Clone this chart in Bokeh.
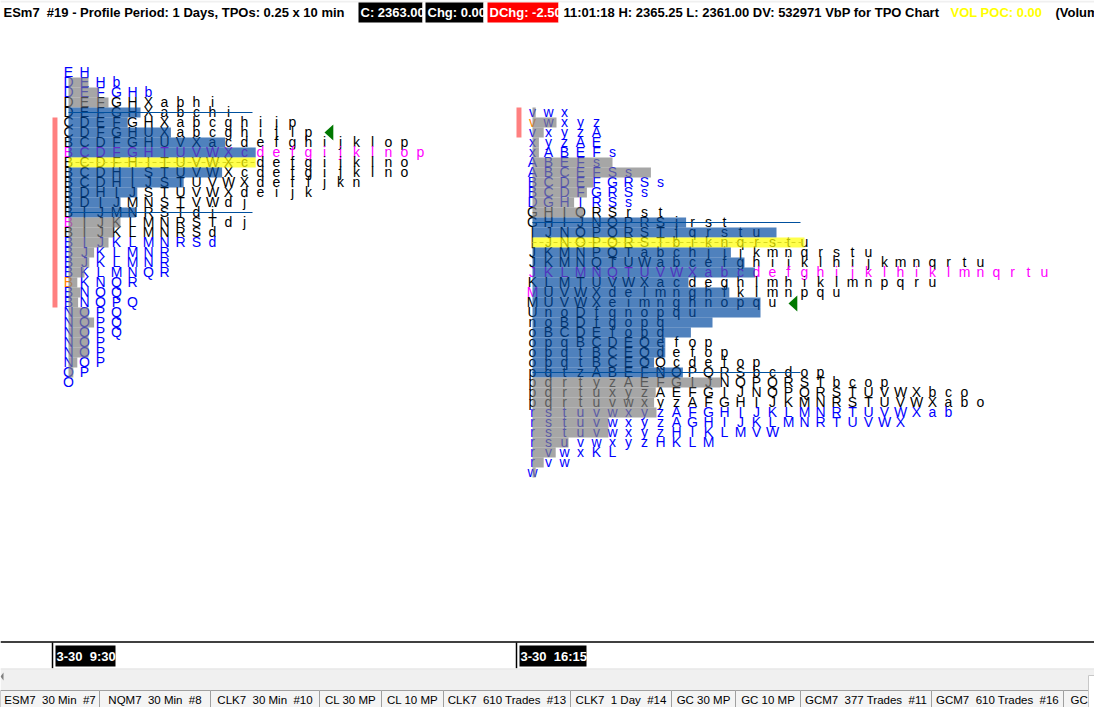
from bokeh.plotting import figure, ColumnDataSource
from bokeh.models import Range1d
from bokeh.core.properties import value
from bokeh.embed import file_html
from bokeh.resources import INLINE

# ---------- market profile data ----------
TICK = 0.25
TOP_PRICE = 2368.0

left_rows = ["EH","DEHb","DEFGHb","DEFGHXabhi","DEFGHXabchi","CDEFGHXabcghijp",
 "CDFGHUXabcghijlp","BCDFGHUVXacdefghijklop","BCDFGHTUVWXcdefgijklnop",
 "BCDFHITUVWXcdefgijklno","BCDHISTUVWXcdefgijklno","BCDHIJSTUVWXdeffjkn",
 "BDHIJSTUVWXdeijk","BDIJMNSTVWdj","BIJMNRSTdi","BIJKLMNRSTdj","BIJKLMNRSd",
 "BIJKLMNRSd","BJKLMNR","BJKLMNR","BKLMNQR","BKNQR","BNOQ","BNOPQ","NOPQ","NOPQ",
 "NOPQ","NOP","NOP","NOP","OP","O"]
left_colors = list("bbbkkkkkmkkkkkkkk" + "b"*15)
left_first = {15: "m", 21: "o"}
left_volume = [0,1.25,1.9,2.5,4.5,3.7,6.4,9.8,11.7,11.7,9.6,7.2,4.3,3.25,4.2,3.25,2.8,2.5,
 1.6,1.3,1,.55,.75,.6,1.25,1.6,1.25,1.25,1.25,.55,.3,0]
left_kind = list("ggggbbbbbybbbbbggggggggggggggggg")

right_rows = ["vwx","vwxyz","vxyzA","xyzAE","xABEFs","ABEFs","ABCEFSs","BCDEFGRSs","BCDFGRSs",
 "DGHIRSs","GHIORSrst","GHIJNOPRSjrst","IJNOPQRSTjqrstu","IJNOPQRSTbiknqrstu",
 "JKMNPQTabchjijkmnqrstu","JKMNQTUWabcefghijklhijkmnqrtu",
 "JKLMNQTUVWXabcdefghijklhiklmnqrtu","KLMTUVWXacdeghlmhiklmnpqru",
 "MUVWXdelmnghfklmnpqu","MUVWXeimnghnopqu","UnoDfgnopqu","noBDfgopq","oBCDEfopq",
 "opqBCDEQefop","opqtBCEQdefop","opqtBCEOQcdefop","pqtzABEFNOPQRSbcdop",
 "pqrtyzAEFGIJNOPQRSTbcop","pqrtuxyzAEFGIJNOPQRSTUVWXbco",
 "pqrtuvwxyzAFGHIJKMNRSTUVWXabo","rstuvwxyzAFGHIJKLMNRTUVWXab",
 "rstuvwxyzAGHIJKLMNRTUVWX","rstuvwxyzHIKLMVW","rsuvwxyzHKLM","rvwxKL","rvw","w"]
right_colors = ["b"]*10 + ["k"]*20 + ["b"]*7
right_colors[16] = "m"
right_first = {1: "o", 18: "m"}
right_volume = [.2,1.5,.7,.4,.4,5,7.4,3.8,3.4,2.6,3.2,9.6,15.25,17,12.4,13.25,13.9,9.75,12.3,
 14.25,14.25,11.25,9.9,8.3,8.3,7.6,9.4,11.75,7.7,7.6,7.75,4.75,4.75,2.25,1.45,.7,.2]
right_kind = list("g"*11 + "bb" + "y" + "b"*13 + "g"*10)

PROFILE_COLS = [0, 29]             # starting column of each profile
PROFILE_FIRST_ROW = [0, 4]         # row offset of each profile top
PALETTE = {"b": "#0000FF", "k": "#000000", "m": "#FF00FF", "o": "#FF8000"}
BAR = {"g": "#808080", "b": "#044BA1", "y": "#FFFF00"}
VA_ROWS = [[4, 14], [15, 30]]      # value-area lines (row index on the price ladder)
VA_END = [11.5, 45.75]
POC_ROW = [9, 17]
POC_END = [11.7, 46]
EXT_LEFT = [-1.0, -0.69, 28.0, 28.31]
EXT_ROWS = [4.5, 23.5, 3.5, 6.5]
ARROW_COL = [16.0, 45.0]
ARROW_ROW = [6, 23.1]

# ---------- chart furniture ----------
NB = "\u00a0\u00a0"
header = [
 ("ESm7" + NB + "#19 - Profile Period: 1 Days, TPOs: 0.25 x 10 min", 3, "#000000"),
 ("11:01:18 H: 2365.25 L: 2361.00 DV: 532971 VbP for TPO Chart", 563, "#000000"),
 ("VOL POC: 0.00", 950, "#FFFF00"),
 ("(Volume", 1055, "#000000"),
]
boxes = [("C: 2363.00", 358, 422, "#000000"), ("Chg: 0.00", 425, 483, "#000000"),
         ("DChg: -2.50", 487, 558, "#FF0000")]
time_labels = ["3-30" + NB + "9:30", "3-30" + NB + "16:15"]
time_ticks = [52, 516]
time_boxes = [(55, 115), (519, 586)]
tab_labels = ["ESM7" + NB + "30 Min" + NB + "#7", "NQM7" + NB + "30 Min" + NB + "#8",
              "CLK7" + NB + "30 Min" + NB + "#10", "CL 30 MP", "CL 10 MP",
              "CLK7" + NB + "610 Trades" + NB + "#13", "CLK7" + NB + "1 Day" + NB + "#14",
              "GC 30 MP", "GC 10 MP", "GCM7" + NB + "377 Trades" + NB + "#11",
              "GCM7" + NB + "610 Trades" + NB + "#16"]
last_tab_label = "GCM7"
tab_edges = [0, 99, 210, 319, 381, 443, 570, 671, 735, 800, 931, 1063, 1094]

W, H = 1094, 707
X0, COLPX = 68.0, 16.0
Y0, ROWPX = 72.0, 10.0
px_per_price = ROWPX / TICK
p = figure(width=W, height=H, output_backend="svg", toolbar_location=None,
           x_axis_type=None, y_axis_type=None, min_border=0, outline_line_color=None,
           background_fill_color="#FFFFFF", border_fill_color="#FFFFFF",
           x_range=Range1d(-X0 / COLPX, (W - X0) / COLPX),
           y_range=Range1d(TOP_PRICE - (H - Y0) / px_per_price, TOP_PRICE + Y0 / px_per_price))
p.grid.visible = False
p.extra_x_ranges = {"px": Range1d(0, W)}
p.extra_y_ranges = {"px": Range1d(H, 0)}

def price(row):
    return TOP_PRICE - TICK * row

# letters (under the translucent bars, as in the original)
xs, ys, ts, cs = [], [], [], []
for k, (rows, colors, first) in enumerate([(left_rows, left_colors, left_first),
                                           (right_rows, right_colors, right_first)]):
    for i, row in enumerate(rows):
        for j, ch in enumerate(row):
            xs.append(PROFILE_COLS[k] + j)
            ys.append(price(i + PROFILE_FIRST_ROW[k] - 0.1))
            ts.append(ch)
            cs.append(PALETTE[first[i]] if j == 0 and i in first else PALETTE[colors[i]])
p.text(x="x", y="y", text="t", text_color="c", source=ColumnDataSource(dict(x=xs, y=ys, t=ts, c=cs)),
       text_font=value("Liberation Sans"), text_font_size="14px",
       text_align="center", text_baseline="middle")

# volume-by-price bars
lft, rgt, top, bot, col = [], [], [], [], []
for k, (vol, kind) in enumerate([(left_volume, left_kind), (right_volume, right_kind)]):
    for i, (v, c) in enumerate(zip(vol, kind)):
        if v > 0:
            r = i + PROFILE_FIRST_ROW[k]
            lft.append(PROFILE_COLS[k]); rgt.append(PROFILE_COLS[k] + v)
            top.append(price(r - .5)); bot.append(price(r + .5)); col.append(BAR[c])
p.quad(left="l", right="r", top="t", bottom="b", fill_color="c", fill_alpha=0.7, line_color=None,
       source=ColumnDataSource(dict(l=lft, r=rgt, t=top, b=bot, c=col)))

# value-area lines, POC dash
for k in range(2):
    for r in VA_ROWS[k]:
        p.line([PROFILE_COLS[k], VA_END[k]], [price(r), price(r)], line_color="#00509E", line_width=1.2)
    p.line([PROFILE_COLS[k], POC_END[k]], [price(POC_ROW[k])] * 2, line_color="#D8D820",
           line_width=1, line_dash="4 3")

# initial-balance / extension bars
p.quad(left=EXT_LEFT[0::2], right=EXT_LEFT[1::2], top=[price(EXT_ROWS[0]), price(EXT_ROWS[2])],
       bottom=[price(EXT_ROWS[1]), price(EXT_ROWS[3])], fill_color="#FF8080", line_color=None)

# last-price arrows
for c, r in zip(ARROW_COL, ARROW_ROW):
    p.patch([c, c + .55, c + .55], [price(r), price(r - .8), price(r + .8)], fill_color="#007800", line_color=None)

# ----- header strip (pixel ranges) -----
PX = dict(x_range_name="px", y_range_name="px")
HF = dict(text_font=value("Liberation Sans"), text_font_style="bold", text_font_size="13px",
          text_baseline="middle", text_align="left")
p.quad(left=[0], right=[W], top=[0], bottom=[2], fill_color="#F0F0F0", line_color=None, **PX)
for t, x, c in header:
    p.text(x=[x], y=[12], text=[t], text_color=c, **HF, **PX)
for t, a, b, c in boxes:
    p.quad(left=[a], right=[b], top=[2], bottom=[22], fill_color=c, line_color=None, **PX)
    p.text(x=[a + 2], y=[12], text=[t], text_color="#FFFFFF", **HF, **PX)
    p.quad(left=[b], right=[b + 3], top=[2], bottom=[22], fill_color="#FFFFFF", line_color=None, **PX)

# ----- time axis -----
p.line([0, W], [641.5, 641.5], line_color="#000000", line_width=1.5, **PX)
for x, t, (a, b) in zip(time_ticks, time_labels, time_boxes):
    p.line([x, x], [642, 668], line_color="#000000", line_width=1.5, **PX)
    p.quad(left=[a], right=[b], top=[645], bottom=[666], fill_color="#000000", line_color=None, **PX)
    p.text(x=[a + 1], y=[656], text=[t], text_color="#FFFFFF", **HF, **PX)

# ----- scrollbar and tabs -----
p.quad(left=[0], right=[W], top=[668], bottom=[707], fill_color="#F0F0F0", line_color=None, **PX)
p.quad(left=[0], right=[W], top=[668], bottom=[669], fill_color="#E4E4E4", line_color=None, **PX)
p.patch([0, 3, 3], [676, 672, 680], fill_color="#808080", line_color=None, **PX)
p.quad(left=tab_edges[:-1], right=tab_edges[1:], top=[690] * 12, bottom=[708] * 12,
       fill_color="#F4F4F4", line_color="#A0A0A0", line_width=1, **PX)
TF = dict(text_color="#000000", text_font=value("Liberation Sans"), text_font_size="11.5px",
          text_baseline="middle")
p.text(x=[(a + b) / 2 for a, b in zip(tab_edges[:-2], tab_edges[1:-1])], y=[699] * 11, text=tab_labels,
       text_align="center", **TF, **PX)
p.text(x=[tab_edges[-2] + 7], y=[699], text=[last_tab_label], text_align="left", **TF, **PX)
p.quad(left=[1088], right=[1100], top=[675], bottom=[710], fill_color="#FFFFFF",
       line_color="#C8C8C8", line_width=1, **PX)

open("out.html", "w").write(file_html(p, INLINE))
